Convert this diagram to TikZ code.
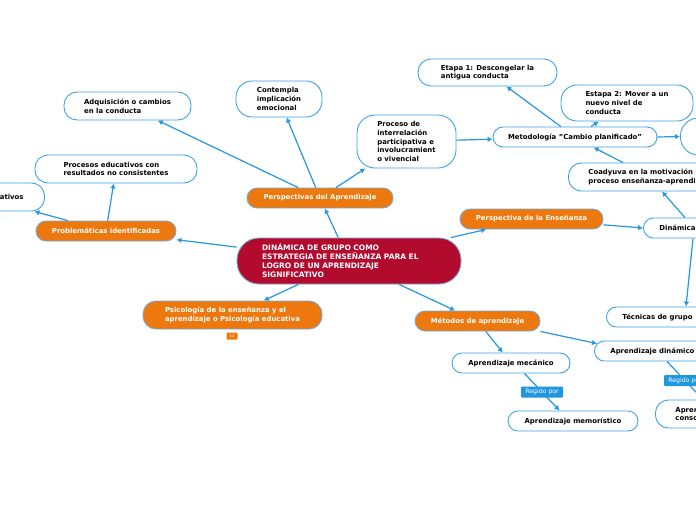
\documentclass[tikz,border=0pt]{standalone}
\usepackage{fontspec}
\setmainfont{DejaVu Sans}
\usetikzlibrary{arrows.meta,calc}
\definecolor{orng}{RGB}{237,120,14}
\definecolor{mred}{RGB}{178,11,46}
\definecolor{lblue}{RGB}{38,151,224}
\definecolor{bord}{RGB}{60,163,230}
\definecolor{obord}{RGB}{120,170,210}
\definecolor{bbl}{RGB}{31,150,222}
\begin{document}
\begin{tikzpicture}[x=1pt,y=-1pt,
  font=\bfseries\fontsize{6.9}{8.7}\selectfont,
  base/.style={rounded corners=10pt, line width=0.9pt, inner xsep=0pt, inner ysep=0pt, align=left},
  wn/.style={base, draw=bord, fill=white, text=black},
  on/.style={base, draw=obord, fill=orng, text=white},
  conn/.style={draw=lblue, line width=1.2pt, -{Latex[length=5pt,width=5.5pt]}},
  badge/.style={fill=bbl, text=white, font=\fontsize{6.2}{7}\selectfont, inner sep=0pt, minimum width=42pt, minimum height=11pt, rounded corners=1pt}]
\useasboundingbox (0,0) rectangle (696,520);
\clip (0,0) rectangle (696,520);
\fill[white] (0,0) rectangle (696,520);

% central node
\node[on, fill=mred, rounded corners=22pt, minimum width=224pt, minimum height=46pt, text width=174pt, font=\bfseries\fontsize{7.5}{9}\selectfont] (main) at (349,261)
  {DINÁMICA DE GRUPO COMO\\ESTRATEGIA DE ENSEÑANZA PARA EL\\LOGRO DE UN APRENDIZAJE\\SIGNIFICATIVO};

% orange nodes
\node[on, minimum width=146pt, minimum height=20pt, align=center] (pa) at (320,198) {Perspectivas del Aprendizaje};
\node[on, minimum width=140pt, minimum height=20pt, align=center] (pi) at (106,231) {Problemáticas identificadas};
\node[on, rounded corners=13pt, minimum width=179pt, minimum height=28pt] (psi) at (232.5,315) {Psicología de la enseñanza y el\\aprendizaje o Psicología educativa};
\node[fill=orng, rounded corners=1pt, inner sep=0pt, minimum width=11pt, minimum height=7pt, font=\fontsize{4}{4}\selectfont, text=white!85!orng] (b12) at (232,336) {12};
\node[on, minimum width=143pt, minimum height=20pt, align=center] (pens) at (531.5,219) {Perspectiva de la Enseñanza};
\node[on, minimum width=125pt, minimum height=20pt, align=center] (ma) at (477.5,321) {Métodos de aprendizaje};

% white nodes, left part
\node[wn, rounded corners=13pt, minimum width=127pt, minimum height=28pt] (adq) at (127.5,106) {Adquisición o cambios\\en la conducta};
\node[wn, rounded corners=16pt, minimum width=86pt, minimum height=36pt] (cont) at (279,99) {Contempla\\implicación\\emocional};
\node[wn, rounded corners=13pt, minimum width=162pt, minimum height=28pt] (proc) at (116,169) {Procesos educativos con\\resultados no consistentes};
\node[wn, rounded corners=13pt, anchor=east, inner xsep=21pt, text width=84pt, align=right, minimum height=28pt] (ativ) at (45,197) {ativos};

% white nodes, upper right
\node[wn, rounded corners=18pt, minimum width=99pt, minimum height=53pt] (inter) at (406.5,141.5) {Proceso de\\interrelación\\participativa e\\involucramient\\o vivencial};
\node[wn, rounded corners=13pt, minimum width=139pt, minimum height=27pt] (et1) at (487.5,72.5) {Etapa 1: Descongelar la\\antigua conducta};
\node[wn, rounded corners=16pt, minimum width=132pt, minimum height=36pt] (et2) at (627,103) {Estapa 2: Mover a un\\nuevo nivel de\\conducta};
\node[wn, minimum width=164pt, minimum height=20pt, align=center] (met) at (575,137) {Metodología "Cambio planificado"};
\node[wn, rounded corners=18pt, anchor=west, minimum width=80pt, minimum height=37pt] (rn) at (680,136.5) {};
\node[wn, rounded corners=13pt, anchor=west, inner xsep=20pt, minimum height=28pt] (coa) at (568,177) {Coadyuva en la motivación del\\proceso enseñanza-aprendizaje};
\node[wn, anchor=west, inner xsep=16pt, minimum height=20pt] (din) at (643,228) {Dinámica de grupo};
\node[wn, anchor=west, inner xsep=16pt, minimum height=20pt] (tec) at (606,317) {Técnicas de grupo};

% lower nodes
\node[wn, anchor=west, inner xsep=16pt, minimum height=20pt] (adin) at (594,351) {Aprendizaje dinámico};
\node[wn, rounded corners=13pt, anchor=west, inner xsep=20pt, minimum height=28pt] (apc) at (655,414) {Aprendizaje\\consciente};
\node[wn, minimum width=118pt, minimum height=20pt, align=center] (mec) at (511,363) {Aprendizaje mecánico};
\node[wn, minimum width=130pt, minimum height=20pt, align=center] (mem) at (573,421) {Aprendizaje memorístico};

% connectors
\draw[conn] (main) -- (pa);
\draw[conn] (main) -- (pi);
\draw[conn] (main) -- (psi);
\draw[conn] (main) -- (pens);
\draw[conn] (main) -- (ma);
\draw[conn] (pa) -- (adq);
\draw[conn] (pa) -- (cont);
\draw[conn] (pa) -- (inter);
\draw[conn] (pi) -- (proc);
\draw[conn] (pi) -- (ativ);
\draw[conn] (inter) -- (met);
\draw[conn] (met) -- (et1);
\draw[conn] (met) -- (et2);
\draw[conn] (met.east) -- (rn.west);
\draw[conn] ($(coa.north west)+(55,0)$) -- ($(met.south west)+(101,0)$);
\draw[conn] ($(din.north west)+(42,0)$) -- ($(coa.south west)+(94,0)$);
\draw[conn] (pens) -- (din.west);
\draw[conn] ($(din.south west)+(50,0)$) -- ($(tec.north west)+(80,0)$);
\draw[conn] (ma) -- (mec);
\draw[conn] (ma.south east) -- ($(adin.north west)+(3,3)$);
\draw[conn] ($(mec.south west)+(73,0)$) -- node[badge] {Regido por} ($(mem.north west)+(52,0)$);
\draw[conn] ($(adin.south west)+(73,0)$) -- node[badge] {Regido por} ($(apc.north west)+(48,0)$);
\end{tikzpicture}
\end{document}
